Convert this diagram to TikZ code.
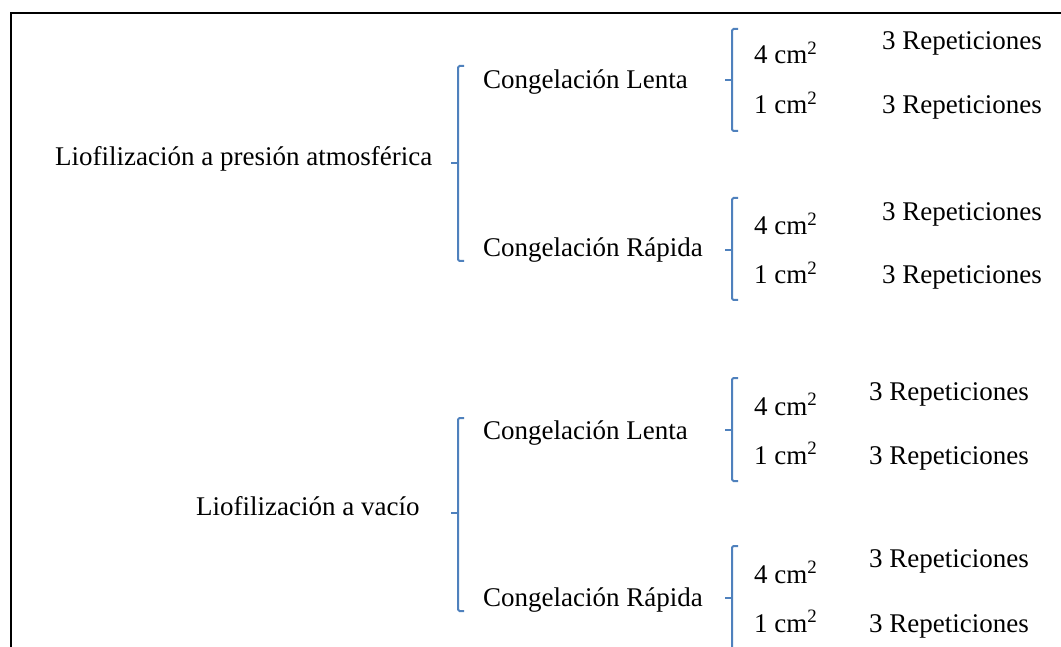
\documentclass[tikz,border=0pt]{standalone}
\usepackage{fontspec}
\setmainfont{Liberation Serif}
\definecolor{braceblue}{HTML}{4F81BD}
\tikzset{
  lbl/.style={anchor=base west, inner sep=0pt, font=\fontsize{27}{32}\selectfont},
  brace/.style={draw=braceblue, line width=2pt, rounded corners=1.5pt},
  frame/.style={draw=black, line width=2.6pt}
}
% square bracket: x, top, tick, bottom (y measured downward)
\newcommand\squarebrace[4]{%
  \draw[brace] (#1+6,#2) -- (#1,#2) -- (#1,#4) -- (#1+6,#4);
  \draw[brace, rounded corners=0pt] (#1,#3) -- (#1-7,#3);
}
\newcommand\sqcm[1]{#1 cm\textsuperscript{2}}
\begin{document}
\begin{tikzpicture}[x=1pt, y=-1pt]
  \useasboundingbox (0,0) rectangle (1061,647);
  \clip (0,0) rectangle (1061,647);
  \fill[white] (0,0) rectangle (1061,647);

  % outer frame (top and left edges)
  \draw[frame] (1070,13) -- (11,13) -- (11,660);

  % ---- atmospheric pressure branch ----
  \node[lbl] (atm) at (55,166) {Liofilización a presión atmosférica};
  \squarebrace{458}{66}{163}{261}
  \node[lbl] (al) at (483,89) {Congelación Lenta};
  \node[lbl] (ar) at (483,257) {Congelación Rápida};

  \squarebrace{732}{29}{80}{131}
  \node[lbl] (al4) at (754,64) {\sqcm{4}};
  \node[lbl] (al1) at (754,114) {\sqcm{1}};
  \node[lbl] (al4r) at (882,50) {3 Repeticiones};
  \node[lbl] (al1r) at (882,114) {3 Repeticiones};

  \squarebrace{732}{198}{250}{300}
  \node[lbl] (ar4) at (754,235) {\sqcm{4}};
  \node[lbl] (ar1) at (754,284) {\sqcm{1}};
  \node[lbl] (ar4r) at (882,221) {3 Repeticiones};
  \node[lbl] (ar1r) at (882,284) {3 Repeticiones};

  % ---- vacuum branch ----
  \node[lbl] (vac) at (196,515) {Liofilización a vacío};
  \squarebrace{458}{418}{513}{611}
  \node[lbl] (vl) at (483,439) {Congelación Lenta};
  \node[lbl] (vr) at (483,606) {Congelación Rápida};

  \squarebrace{732}{378}{430}{481}
  \node[lbl] (vl4) at (754,415) {\sqcm{4}};
  \node[lbl] (vl1) at (754,464) {\sqcm{1}};
  \node[lbl] (vl4r) at (869,400) {3 Repeticiones};
  \node[lbl] (vl1r) at (869,464) {3 Repeticiones};

  \squarebrace{732}{546}{598}{700}
  \node[lbl] (vr4) at (754,583) {\sqcm{4}};
  \node[lbl] (vr1) at (754,632) {\sqcm{1}};
  \node[lbl] (vr4r) at (869,567) {3 Repeticiones};
  \node[lbl] (vr1r) at (869,632) {3 Repeticiones};
\end{tikzpicture}
\end{document}
